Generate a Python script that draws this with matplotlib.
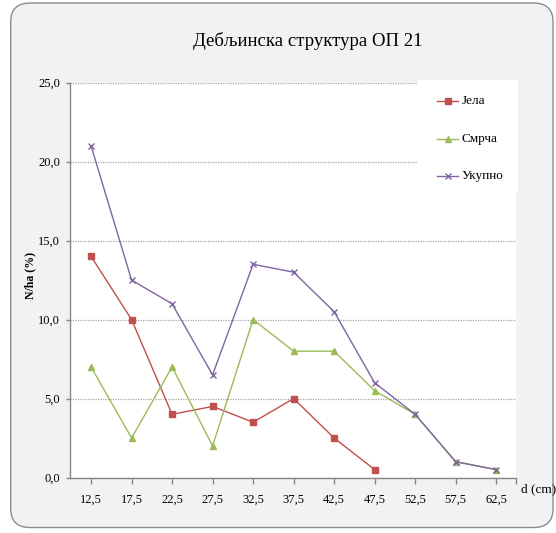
import matplotlib
matplotlib.use("Agg")
import matplotlib.pyplot as plt
from matplotlib.patches import FancyBboxPatch, Rectangle
from matplotlib.lines import Line2D

plt.rcParams['font.family'] = ['Liberation Serif', 'DejaVu Serif']

categories = ["12,5", "17,5", "22,5", "27,5", "32,5", "37,5", "42,5", "47,5", "52,5", "57,5", "62,5"]
jela = [14.0, 10.0, 4.0, 4.5, 3.5, 5.0, 2.5, 0.5]
smrca = [7.0, 2.5, 7.0, 2.0, 10.0, 8.0, 8.0, 5.5, 4.0, 1.0, 0.5]
ukupno = [21.0, 12.5, 11.0, 6.5, 13.5, 13.0, 10.5, 6.0, 4.0, 1.0, 0.5]
yticks = [0, 5, 10, 15, 20, 25]
ytick_labels = ["0,0", "5,0", "10,0", "15,0", "20,0", "25,0"]
series_names = ["Јела", "Смрча", "Укупно"]

W, H = 556, 533
fig = plt.figure(figsize=(W / 100, H / 100), dpi=100)
fig.patch.set_facecolor('white')

# rounded chart frame
frame = FancyBboxPatch((10.7 / W, 5.5 / H), (553 - 10.7) / W, (530 - 5.5) / H,
                       boxstyle="round,pad=0,rounding_size=0.035",
                       transform=fig.transFigure, facecolor='#F2F2F2',
                       edgecolor='#8C8C8C', linewidth=1.0, zorder=-5)
fig.patches.append(frame)

left, right, top, bottom = 70, 516, 82.7, 477.5
ax = fig.add_axes([left / W, 1 - bottom / H, (right - left) / W, (bottom - top) / H])
ax.set_zorder(0)
ax.set_facecolor('white')

x_all = list(range(len(categories)))
colors = {"Јела": "#C0504D", "Смрча": "#9BBB59", "Укупно": "#8064A2"}

ax.plot(range(len(jela)), jela, color=colors["Јела"], marker='s', markersize=4.2,
        linewidth=1.0, zorder=3)
ax.plot(range(len(smrca)), smrca, color=colors["Смрча"], marker='^', markersize=4.2,
        linewidth=1.0, zorder=4)
ax.plot(range(len(ukupno)), ukupno, color=colors["Укупно"], marker='x', markersize=4.0,
        markeredgewidth=1.0, linewidth=1.0, zorder=5)

ax.set_ylim(0, 25)
ax.set_xlim(-0.52, 10.49)
ax.set_yticks(yticks)
ax.set_yticklabels(ytick_labels)
ax.set_xticks(x_all + [10.49])
ax.set_xticklabels(categories + [""])

ax.grid(axis='y', color='#A6A6A6', linestyle=(0, (1, 1)), linewidth=0.9, zorder=1)
ax.set_axisbelow(True)
for s in ['top', 'right']:
    ax.spines[s].set_visible(False)
for s in ['left', 'bottom']:
    ax.spines[s].set_color('#868686')
    ax.spines[s].set_linewidth(1.0)
ax.tick_params(axis='y', length=3, width=1, color='#868686', pad=4, labelsize=9)
ax.tick_params(axis='x', length=4, width=1, color='#868686', pad=8, labelsize=9)

# legend area (white box covering gridlines)
leg_box = Rectangle((418 / W, 1 - 192 / H), (517.7 - 418) / W, (192 - 80) / H,
                    transform=fig.transFigure, facecolor='white', edgecolor='none', zorder=1)
fig.patches.append(leg_box)

markers = {"Јела": ('s', 4.2, 1.0), "Смрча": ('^', 4.2, 1.0), "Укупно": ('x', 4.0, 1.0)}
leg_y = [100.7, 139, 176]
for name, yy in zip(series_names, leg_y):
    c = colors[name]
    m, ms, mew = markers[name]
    ln = Line2D([437 / W, 458 / W], [1 - yy / H, 1 - yy / H], transform=fig.transFigure,
                color=c, linewidth=1.0, zorder=2)
    fig.lines.append(ln)
    mk = Line2D([447.5 / W], [1 - yy / H], transform=fig.transFigure, color=c,
                marker=m, markersize=ms, markeredgewidth=mew, linestyle='none', zorder=2.5)
    fig.lines.append(mk)
    fig.text(461.5 / W, 1 - yy / H, name, fontsize=9.5, va='center', ha='left', zorder=3)

fig.text(307.5 / W, 1 - 41 / H, "Дебљинска структура ОП 21", fontsize=13.5,
         ha='center', va='center')
fig.text(30 / W, 1 - 275 / H, "N/ha (%)", fontsize=8.5, fontweight='bold',
         rotation=90, ha='center', va='center')
fig.text(539 / W, 1 - 489 / H, "d (cm)", fontsize=9.5, ha='center', va='center')

fig.savefig("out.png", dpi=100, facecolor=fig.get_facecolor())
